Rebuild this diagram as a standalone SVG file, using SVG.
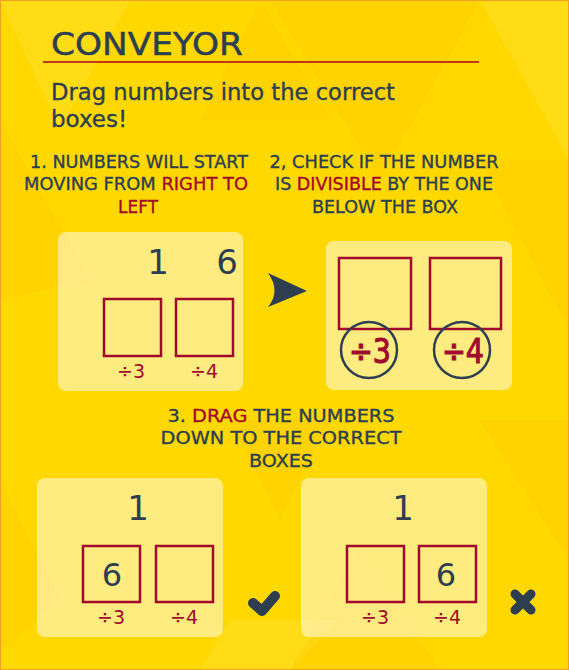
<svg xmlns="http://www.w3.org/2000/svg" width="569" height="670" viewBox="0 0 569 670">
<style>
.t{font-family:"DejaVu Sans","Liberation Sans",sans-serif;fill:#2c3e50}
.w{stroke:#2c3e50;stroke-width:0.35}
.r{fill:#a00a2c;stroke:#a00a2c}
.step{font-size:18px;text-anchor:middle}
.panel{fill:#ffffff;fill-opacity:0.5}
.box{fill:none;stroke:#a00a2c;stroke-width:2.5}
.div{font-size:19px;text-anchor:middle;fill:#a00a2c}
.big{font-size:33px;text-anchor:middle;fill:#a00a2c;stroke:#a00a2c;stroke-width:1.1}
.num{font-size:34px;text-anchor:middle}
.tri{fill:#ffc400;opacity:0.25}
.tril{fill:#fff06a;opacity:0.2}
</style>
<rect x="0" y="0" width="569" height="670" fill="#ffd800"/>
<g id="background">
<polygon class="tril" points="0,0 130,0 60,130"/>
<polygon class="tri" points="270,0 480,0 380,180"/>
<polygon class="tri" points="260,0 330,120 200,120"/>
<polygon class="tri" points="0,120 90,280 0,300"/>
<polygon class="tril" points="480,0 569,0 569,160"/>
<polygon class="tri" points="480,160 569,160 569,330"/>
<polygon class="tri" points="0,480 60,600 0,650"/>
<polygon class="tri" points="230,420 330,420 280,520"/>
<polygon class="tril" points="230,620 340,620 290,670 200,670"/>
<polygon class="tri" points="360,550 440,670 290,670"/>
<polygon class="tri" points="480,420 569,420 569,560"/>
</g>
<rect x="0.5" y="0.5" width="568" height="669" fill="none" stroke="#f2a21f" stroke-width="1"/>
<g id="header">
<text class="t" x="51" y="55" font-size="31.5" stroke="#2c3e50" stroke-width="0.5" textLength="192" lengthAdjust="spacingAndGlyphs">CONVEYOR</text>
<line x1="43" y1="62" x2="479" y2="62" stroke="#b00020" stroke-width="1.6"/>
<text class="t" x="51" y="100" font-size="23" stroke="#2c3e50" stroke-width="0.35" textLength="344" lengthAdjust="spacingAndGlyphs">Drag numbers into the correct</text>
<text class="t" x="51" y="127" font-size="23" stroke="#2c3e50" stroke-width="0.35">boxes!</text>
</g>
<g id="step1-text" class="t w step">
<text x="139" y="168" textLength="218" lengthAdjust="spacingAndGlyphs">1. NUMBERS WILL START</text>
<text x="136" y="190" textLength="224" lengthAdjust="spacingAndGlyphs">MOVING FROM <tspan class="r">RIGHT TO</tspan></text>
<text x="138" y="213" class="r" textLength="40" lengthAdjust="spacingAndGlyphs">LEFT</text>
</g>
<g id="step2-text" class="t w step">
<text x="384" y="168" textLength="229" lengthAdjust="spacingAndGlyphs">2, CHECK IF THE NUMBER</text>
<text x="384" y="190" textLength="218" lengthAdjust="spacingAndGlyphs">IS <tspan class="r">DIVISIBLE</tspan> BY THE ONE</text>
<text x="385" y="213" textLength="146" lengthAdjust="spacingAndGlyphs">BELOW THE BOX</text>
</g>
<g id="panel1">
<rect class="panel" x="58" y="232" width="185" height="159" rx="8"/>
<text class="t num" x="158" y="274">1</text>
<text class="t num" x="227" y="274">6</text>
<rect class="box" x="104" y="299" width="57" height="57"/>
<rect class="box" x="176" y="299" width="57" height="57"/>
<text class="t div" x="131" y="378">÷3</text>
<text class="t div" x="204" y="378">÷4</text>
</g>
<g id="connectors">
<path d="M268,273 L307,291 L268,307 Q281,291 268,273 Z" fill="#2c3e50"/>
</g>
<g id="panel2">
<rect class="panel" x="326" y="241" width="186" height="149" rx="8"/>
<rect class="box" x="339" y="258" width="72" height="71"/>
<rect class="box" x="430" y="258" width="71" height="71"/>
<circle cx="369" cy="350" r="28" fill="none" stroke="#2c3e50" stroke-width="2.5"/>
<circle cx="462" cy="350" r="28" fill="none" stroke="#2c3e50" stroke-width="2.5"/>
<text class="t big" x="370" y="363" textLength="42" lengthAdjust="spacingAndGlyphs">÷3</text>
<text class="t big" x="463" y="363" textLength="42" lengthAdjust="spacingAndGlyphs">÷4</text>
</g>
<g id="step3-text" class="t w step">
<text x="281" y="422" textLength="227" lengthAdjust="spacingAndGlyphs">3. <tspan class="r">DRAG</tspan> THE NUMBERS</text>
<text x="281" y="444" textLength="241" lengthAdjust="spacingAndGlyphs">DOWN TO THE CORRECT</text>
<text x="281" y="467" textLength="64" lengthAdjust="spacingAndGlyphs">BOXES</text>
</g>
<g id="panel3">
<rect class="panel" x="37" y="478" width="186" height="159" rx="8"/>
<text class="t num" x="138" y="520">1</text>
<rect class="box" x="83" y="546" width="57" height="56"/>
<rect class="box" x="156" y="546" width="57" height="56"/>
<text class="t" x="112" y="586" font-size="32" text-anchor="middle">6</text>
<text class="t div" x="111" y="624">÷3</text>
<text class="t div" x="184" y="624">÷4</text>
</g>
<g id="check">
<polyline points="253,603 262,611 275,596" fill="none" stroke="#2c3e50" stroke-width="10" stroke-linecap="round" stroke-linejoin="round"/>
</g>
<g id="panel4">
<rect class="panel" x="301" y="478" width="186" height="159" rx="8"/>
<text class="t num" x="403" y="520">1</text>
<rect class="box" x="347" y="546" width="57" height="56"/>
<rect class="box" x="419" y="546" width="57" height="56"/>
<text class="t" x="446" y="586" font-size="32" text-anchor="middle">6</text>
<text class="t div" x="375" y="624">÷3</text>
<text class="t div" x="447" y="624">÷4</text>
</g>
<g id="cross">
<path d="M515,594 L531,610 M531,594 L515,610" fill="none" stroke="#2c3e50" stroke-width="9" stroke-linecap="round"/>
</g>
</svg>
